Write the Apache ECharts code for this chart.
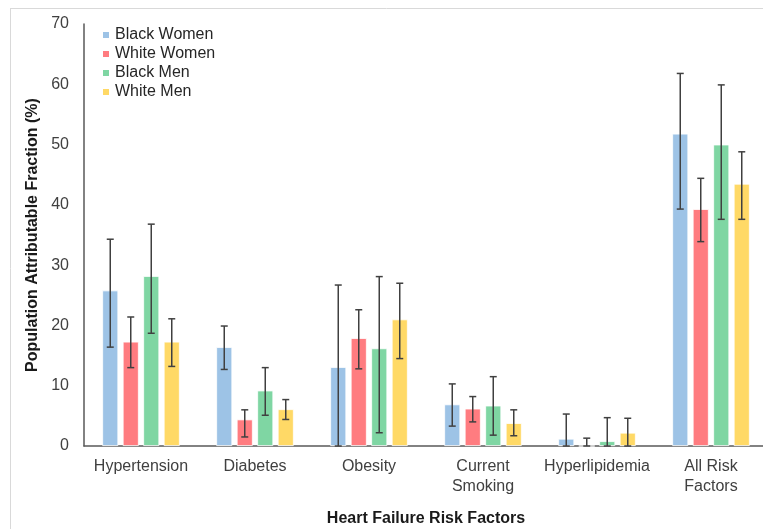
<!DOCTYPE html>
<html>
<head>
<meta charset="utf-8">
<script src="https://cdn.jsdelivr.net/npm/echarts@6/dist/echarts.min.js"></script>
<style>
  html, body { margin: 0; padding: 0; background: #fff; }
  #chart { width: 763px; height: 529px; }
</style>
</head>
<body>
<div id="chart"></div>
<script>
// categories and groups
var categories = ["Hypertension", "Diabetes", "Obesity", "Current\nSmoking", "Hyperlipidemia", "All Risk\nFactors"];
var groups = ["Black Women", "White Women", "Black Men", "White Men"];
var colors = ["#9DC3E6", "#FF7C80", "#7FD6A3", "#FFD966"];

// point estimates (%)
var blackWomen = [25.8, 16.4, 13.1, 6.9, 1.2, 51.8];
var whiteWomen = [17.3, 4.4, 17.9, 6.2, 0, 39.3];
var blackMen = [28.2, 9.2, 16.2, 6.7, 0.8, 50.0];
var whiteMen = [17.3, 6.1, 21.0, 3.8, 2.2, 43.5];

// 95% CI lower / upper
var blackWomenLow = [16.4, 12.7, 0, 3.3, 0, 39.3];
var blackWomenHigh = [34.3, 19.9, 26.7, 10.3, 5.3, 61.8];
var whiteWomenLow = [13.0, 1.5, 12.8, 4.0, 0, 33.9];
var whiteWomenHigh = [21.4, 6.0, 22.6, 8.2, 1.3, 44.4];
var blackMenLow = [18.7, 5.1, 2.2, 1.8, 0, 37.6];
var blackMenHigh = [36.8, 13.0, 28.1, 11.5, 4.7, 59.9];
var whiteMenLow = [13.2, 4.4, 14.5, 1.7, 0, 37.6];
var whiteMenHigh = [21.1, 7.7, 27.0, 6.0, 4.6, 48.8];

var yTicks = [0, 10, 20, 30, 40, 50, 60, 70];

var values = [blackWomen, whiteWomen, blackMen, whiteMen];
var lows = [blackWomenLow, whiteWomenLow, blackMenLow, whiteMenLow];
var highs = [blackWomenHigh, whiteWomenHigh, blackMenHigh, whiteMenHigh];

var BAR_W = 16;
var BAR_GAP = 4.5;

var chart = echarts.init(document.getElementById("chart"));

var series = [];
groups.forEach(function (name, i) {
  series.push({
    name: name,
    type: "bar",
    barWidth: BAR_W,
    barGap: (BAR_GAP / BAR_W * 100) + "%",
    itemStyle: { color: colors[i], borderColor: "#fff", borderWidth: 0.8 },
    data: values[i]
  });
});

// error bars
groups.forEach(function (name, i) {
  var data = lows[i].map(function (lo, k) { return [k, lo, highs[i][k]]; });
  series.push({
    type: "custom",
    name: name + " CI",
    z: 5,
    renderItem: function (params, api) {
      var k = api.value(0);
      var p1 = api.coord([k, api.value(1)]);
      var p2 = api.coord([k, api.value(2)]);
      var off = (i - 1.5) * (BAR_W + BAR_GAP);
      var x = p1[0] + off;
      var cap = 3.5;
      var st = { stroke: "#404040", lineWidth: 1.5 };
      return {
        type: "group",
        children: [
          { type: "line", shape: { x1: x, y1: p1[1], x2: x, y2: p2[1] }, style: st },
          { type: "line", shape: { x1: x - cap, y1: p2[1], x2: x + cap, y2: p2[1] }, style: st },
          { type: "line", shape: { x1: x - cap, y1: p1[1], x2: x + cap, y2: p1[1] }, style: st }
        ]
      };
    },
    encode: { x: 0, y: [1, 2] },
    data: data
  });
});

var option = {
  animation: false,
  textStyle: { fontFamily: "Liberation Sans, Arial, sans-serif" },
  graphic: [
    { type: "line", shape: { x1: 10.5, y1: 8, x2: 10.5, y2: 529 }, style: { stroke: "#d9d9d9", lineWidth: 1 } },
    { type: "line", shape: { x1: 10, y1: 8.5, x2: 763, y2: 8.5 }, style: { stroke: "#d9d9d9", lineWidth: 1 } }
  ],
  legend: {
    data: groups,
    orient: "vertical",
    left: 96,
    top: 21,
    icon: "rect",
    itemWidth: 8,
    itemHeight: 8,
    itemGap: 1,
    textStyle: { fontSize: 16, color: "#262626", lineHeight: 18 }
  },
  grid: {
    left: 84,
    right: -5,
    top: 24,
    bottom: 83,
    outerBoundsMode: "none"
  },
  xAxis: {
    type: "category",
    data: categories,
    name: "Heart Failure Risk Factors",
    nameLocation: "middle",
    nameGap: 65,
    nameTextStyle: { fontSize: 16, fontWeight: "bold", color: "#1a1a1a" },
    axisLine: { lineStyle: { color: "#595959", width: 1.5 } },
    axisTick: { show: false },
    axisLabel: { fontSize: 16, color: "#404040", margin: 11, lineHeight: 20, interval: 0 }
  },
  yAxis: {
    type: "value",
    min: yTicks[0],
    max: yTicks[yTicks.length - 1],
    interval: 10,
    name: "Population Attributable Fraction (%)",
    nameLocation: "middle",
    nameGap: 40,
    nameTextStyle: { fontSize: 16, fontWeight: "bold", color: "#1a1a1a" },
    axisLine: { show: true, lineStyle: { color: "#595959", width: 1.5 } },
    axisTick: { show: false },
    splitLine: { show: false },
    axisLabel: { fontSize: 16, color: "#404040", margin: 15 }
  },
  series: series
};

chart.setOption(option);
</script>
</body>
</html>
